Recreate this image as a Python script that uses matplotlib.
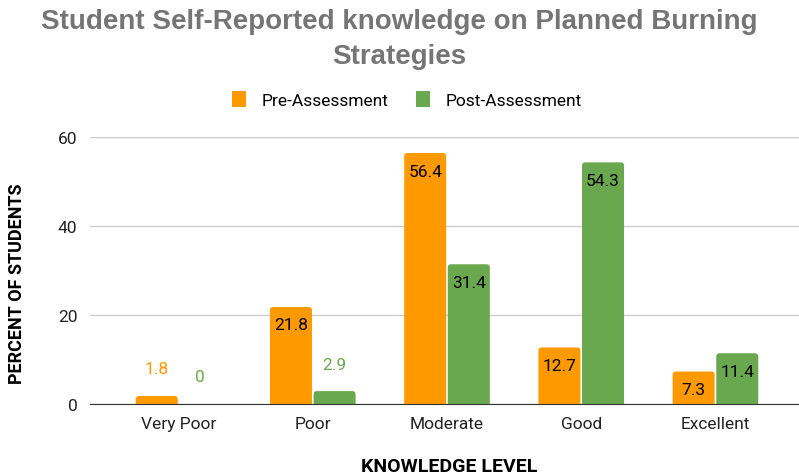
import numpy as np
import matplotlib.pyplot as plt
from matplotlib.patches import FancyBboxPatch

plt.rcParams['font.family'] = ['Roboto', 'DejaVu Sans']

categories = ['Very Poor', 'Poor', 'Moderate', 'Good', 'Excellent']
pre = [1.8, 21.8, 56.4, 12.7, 7.3]
post = [0, 2.9, 31.4, 54.3, 11.4]
yticks = [0, 20, 40, 60]

c_pre = '#ff9900'
c_post = '#6aa84f'

fig = plt.figure(figsize=(7.99, 4.77), dpi=100)
ax = fig.add_axes([0.1126, 0.151, 0.887, 0.5597])

x = np.arange(len(categories))
w = 0.313
b1 = ax.bar(x - w / 2 - 0.006, pre, w, color=c_pre, label='Pre-Assessment', zorder=3)
b2 = ax.bar(x + w / 2 + 0.006, post, w, color=c_post, label='Post-Assessment', zorder=3)

ax.set_xlim(-0.66, 4.62)
ax.set_ylim(0, 60)

# swap plain rectangles for ones with slightly rounded top corners
aspect = (60 / 267) / (5.28 / 708)
for bars, col in [(b1, c_pre), (b2, c_post)]:
    for bar in bars:
        h = bar.get_height()
        bar.set_visible(False)
        if h <= 0:
            continue
        p = FancyBboxPatch((bar.get_x(), -2), bar.get_width(), h + 2,
                           boxstyle='round,pad=0,rounding_size=0.025',
                           mutation_aspect=aspect, facecolor=col, edgecolor='none', zorder=3)
        ax.add_patch(p)

# value labels: inside near the top for tall bars, above in series colour for short ones
for bars, vals, col in [(b1, pre, c_pre), (b2, post, c_post)]:
    for bar, v in zip(bars, vals):
        cx = bar.get_x() + bar.get_width() / 2
        if v > 5:
            ax.annotate(f'{v:g}', (cx, v), xytext=(0, -18), textcoords='offset pixels',
                        ha='center', va='center', fontsize=12.5, color='#000000', zorder=4)
        else:
            ax.annotate(f'{v:g}', (cx, v), xytext=(0, 27), textcoords='offset pixels',
                        ha='center', va='center', fontsize=12.5, color=col, zorder=4)

ax.set_yticks(yticks)
ax.set_xticks(x)
ax.set_xticklabels(categories)
ax.tick_params(length=0, labelsize=12.5, colors='#222222')
ax.tick_params(axis='y', pad=9)
ax.tick_params(axis='x', pad=9)
ax.grid(axis='y', color='#cccccc', linewidth=1, zorder=0)
for s in ['top', 'right', 'left']:
    ax.spines[s].set_visible(False)
ax.spines['bottom'].set_color('#333333')
ax.spines['bottom'].set_zorder(5)

# axis titles placed in figure pixels like the reference
fig.text(449 / 799, 1 - 467 / 477, 'KNOWLEDGE LEVEL', ha='center', va='center',
         fontsize=14, fontweight='bold', color='#000000')
fig.text(17 / 799, 1 - 284 / 477, 'PERCENT OF STUDENTS', ha='center', va='center', rotation=90,
         fontsize=13, fontweight='bold', color='#000000')

fig.text(0.5, 1 - 22 / 477, 'Student Self-Reported knowledge on Planned Burning', ha='center', va='center',
         fontsize=20, fontweight='bold', color='#757575', family=['Liberation Sans'])
fig.text(0.5, 1 - 57 / 477, 'Strategies', ha='center', va='center',
         fontsize=20, fontweight='bold', color='#757575', family=['Liberation Sans'])

fig.legend(handles=[b1, b2], loc='center', bbox_to_anchor=(0.509, 0.79), ncol=2, frameon=False,
           fontsize=12.5, handlelength=0.8, handleheight=1.1, handletextpad=0.9, columnspacing=1.6)
for h in fig.legends[0].legend_handles:
    h.set_visible(True)

fig.savefig('out.png', dpi=100)
